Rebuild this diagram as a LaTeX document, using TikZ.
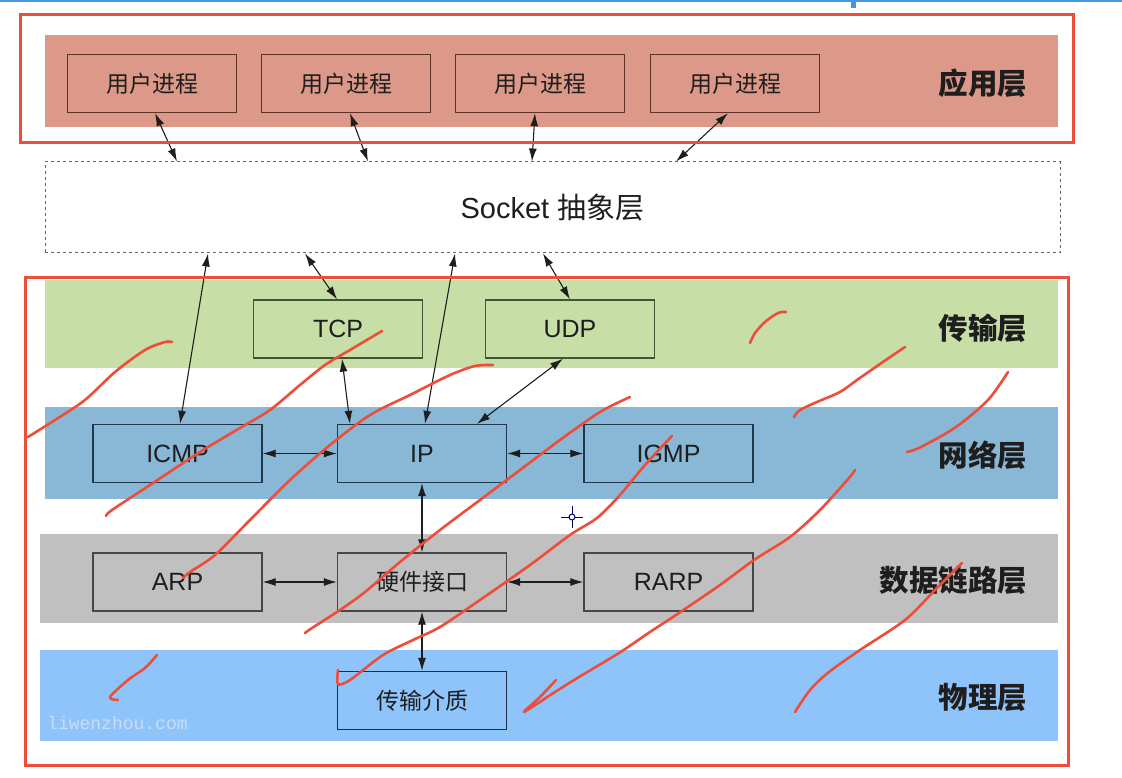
\documentclass[tikz,border=0pt]{standalone}
\usepackage{fontspec}
\setmainfont{Liberation Sans}
\newfontfamily\cjk{Noto Sans CJK SC}
\newfontfamily\monofnt{Liberation Mono}
\usetikzlibrary{arrows.meta}
\definecolor{redpen}{RGB}{236,78,58}
\definecolor{appc}{RGB}{220,152,136}
\definecolor{trc}{RGB}{200,222,167}
\definecolor{netc}{RGB}{137,183,214}
\definecolor{dlc}{RGB}{192,192,192}
\definecolor{phc}{RGB}{143,196,250}
\definecolor{appb}{RGB}{95,50,40}
\definecolor{trb}{RGB}{65,85,55}
\definecolor{netb}{RGB}{35,55,75}
\definecolor{dlb}{RGB}{70,70,70}
\definecolor{phb}{RGB}{30,45,75}
\definecolor{chrome}{RGB}{70,150,225}
\definecolor{wmark}{RGB}{200,222,248}
\definecolor{ink}{RGB}{30,30,30}
\begin{document}
\begin{tikzpicture}[x=1pt,y=-1pt,
  pbox/.style={draw=#1, line width=1.3pt, minimum width=169pt, minimum height=58pt, inner sep=0pt, text=ink, font=\fontsize{23}{26}\selectfont},
  laylabel/.style={anchor=east, text=ink, font=\cjk\bfseries\fontsize{29.5}{32}\selectfont},
  dbl/.style={{Latex[length=13pt,width=8pt]}-{Latex[length=13pt,width=8pt]}, line width=1.1pt, draw=ink},
  frame/.style={draw=redpen, line width=3pt},
  scrib/.style={draw=redpen, line width=2.6pt, line cap=round, line join=round}]
\useasboundingbox (0,0) rectangle (1122,778);
\fill[white] (0,0) rectangle (1122,778);
% screen chrome
\draw[chrome, line width=1.5pt] (0,1.2) -- (1122,1.2);
\fill[chrome] (851,0) rectangle (856,8);
% bands
\fill[appc] (45,35) rectangle (1058,127);
\fill[trc] (45,280) rectangle (1058,368);
\fill[netc] (45,407) rectangle (1058,499);
\fill[dlc] (40,534) rectangle (1058,623);
\fill[phc] (40,650) rectangle (1058,741);
% application processes
\node[pbox=appb] (u1) at (152,83.5) {\cjk 用户进程};
\node[pbox=appb] (u2) at (346,83.5) {\cjk 用户进程};
\node[pbox=appb] (u3) at (540,83.5) {\cjk 用户进程};
\node[pbox=appb] (u4) at (735,83.5) {\cjk 用户进程};
\node[laylabel] (lapp) at (1031,83) {应用层};
% socket
\node[draw=black!60, dashed, line width=1pt, minimum width=1015pt, minimum height=91pt, inner sep=0pt, text=ink,
  font=\fontsize{29}{32}\selectfont] (sock) at (552.5,207.5) {Socket {\cjk 抽象层}};
% transport
\node[pbox=trb] (tcp) at (338,329) {\fontsize{25}{28}\selectfont TCP};
\node[pbox=trb] (udp) at (570,329) {\fontsize{25}{28}\selectfont UDP};
\node[laylabel] (ltr) at (1031,328) {传输层};
% network
\node[pbox=netb] (icmp) at (177.5,453.5) {\fontsize{25}{28}\selectfont ICMP};
\node[pbox=netb] (ip) at (422,453.5) {\fontsize{25}{28}\selectfont IP};
\node[pbox=netb] (igmp) at (668.5,453.5) {\fontsize{25}{28}\selectfont IGMP};
\node[laylabel] (lnet) at (1031,455) {网络层};
% data link
\node[pbox=dlb] (arp) at (177.5,582) {\fontsize{25}{28}\selectfont ARP};
\node[pbox=dlb] (hw) at (422,582) {\cjk 硬件接口};
\node[pbox=dlb] (rarp) at (668.5,582) {\fontsize{25}{28}\selectfont RARP};
\node[laylabel] (ldl) at (1031,580) {数据链路层};
% physical
\node[pbox=phb] (med) at (422,700.5) {\cjk 传输介质};
\node[laylabel] (lph) at (1031,697) {物理层};
\node[anchor=west, text=wmark, font=\monofnt\fontsize{18}{20}\selectfont, inner sep=0pt] (wm) at (47,723) {liwenzhou.com};
% connectors
\draw[dbl] ([xshift=3pt]u1.south) -- ([xshift=-375.5pt]sock.north);
\draw[dbl] ([xshift=4pt]u2.south) -- ([xshift=-184.5pt]sock.north);
\draw[dbl] ([xshift=-5pt]u3.south) -- ([xshift=-20.5pt]sock.north);
\draw[dbl] ([xshift=-7pt]u4.south) -- ([xshift=123.5pt]sock.north);
\draw[dbl] ([xshift=-344.5pt]sock.south) -- ([xshift=2.5pt]icmp.north);
\draw[dbl] ([xshift=-247.5pt]sock.south) -- ([xshift=-1pt]tcp.north);
\draw[dbl] ([xshift=-97.5pt]sock.south) -- ([xshift=3pt]ip.north);
\draw[dbl] ([xshift=-9.5pt]sock.south) -- ([xshift=0pt]udp.north);
\draw[dbl] ([xshift=4pt]tcp.south) -- ([xshift=-72pt]ip.north);
\draw[dbl] ([xshift=-7pt]udp.south) -- ([xshift=55pt]ip.north);
\draw[dbl] (icmp.east) -- (ip.west);
\draw[dbl] (ip.east) -- (igmp.west);
\draw[dbl] (ip.south) -- (hw.north);
\draw[dbl] (arp.east) -- (hw.west);
\draw[dbl] (hw.east) -- (rarp.west);
\draw[dbl] (hw.south) -- (med.north);
% red frames
\draw[frame] (20,15) rectangle (1073,143);
\draw[frame] (25,277) rectangle (1068,765);
% cursor
\draw[black!20!blue!60!black, line width=1pt] (561,517) -- (583,517) (572,506) -- (572,528);
\filldraw[fill=white, draw=black!20!blue!60!black, line width=1pt] (572,517) circle (3);
% red pen scribbles
\draw[scrib] plot[smooth] coordinates {(28,437) (55,420) (85,400) (115,372) (145,350) (165,342) (172,342)};
\draw[scrib] plot[smooth] coordinates {(106,516) (112,510) (150,485) (200,452) (240,428) (270,410) (300,385) (325,365) (350,350) (382,331)};
\draw[scrib] plot[smooth] coordinates {(183,578) (190,572) (215,555) (250,520) (290,480) (330,445) (370,415) (410,395) (450,375) (475,366) (493,365)};
\draw[scrib] plot[smooth] coordinates {(305,633) (312,628) (340,610) (365,592) (400,562) (440,530) (480,500) (520,470) (560,440) (600,412) (630,397)};
\draw[scrib] plot[smooth] coordinates {(338,670) (338,684) (350,680) (383,655) (413,640) (440,627) (480,600) (530,565) (570,535) (597,518) (620,495) (645,465) (672,436)};
\draw[scrib] plot[smooth] coordinates {(556,680) (540,697) (524,712) (555,692) (579,677) (619,653) (650,632) (679,613) (720,585) (754,560) (790,537) (820,510) (849,478) (855,470)};
\draw[scrib] plot[smooth] coordinates {(795,712) (810,690) (829,672) (860,650) (905,620) (935,590) (962,563)};
\draw[scrib] plot[smooth] coordinates {(750,343) (755,333) (765,322) (778,313) (786,312)};
\draw[scrib] plot[smooth] coordinates {(794,417) (800,410) (817,402) (840,392) (857,380) (880,364) (905,347)};
\draw[scrib] plot[smooth] coordinates {(907,452) (921,447) (956,427) (988,400) (1008,372)};
\draw[scrib] plot[smooth] coordinates {(157,655) (145,668) (128,680) (110,697) (118,700)};
\end{tikzpicture}
\end{document}
